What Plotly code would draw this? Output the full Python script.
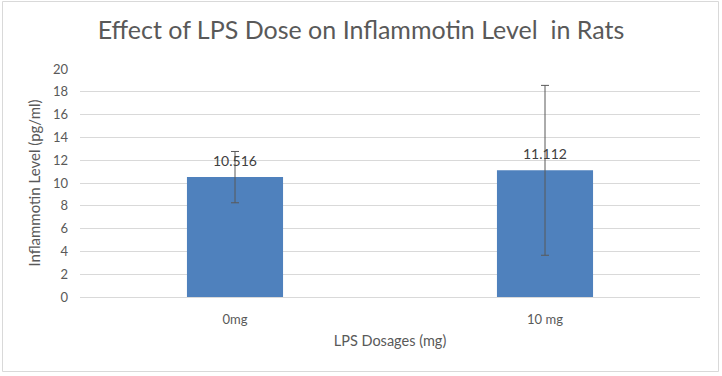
import plotly.graph_objects as go

categories = ["0mg", "10 mg"]
values = [10.516, 11.112]
errors = [2.25, 7.45]
labels = ["10.516", "11.112"]
y_ticks = [0, 2, 4, 6, 8, 10, 12, 14, 16, 18, 20]

W, H = 722, 376
L, R, T, B = 80, 22, 69, 79
pw, ph = W - L - R, H - T - B

def px_x(p):
    return (p - L) / pw

def px_y(p):
    return (H - B - p) / ph

FONT = "Lato, Open Sans, sans-serif"
GREY = "#595959"

fig = go.Figure()
fig.add_trace(go.Bar(
    x=categories, y=values,
    marker=dict(color="#4F81BD", line=dict(width=0)),
    width=0.31,
    error_y=dict(type="data", array=errors, visible=True, color=GREY, thickness=1, width=4),
    hoverinfo="skip",
))
for c, v, t in zip(categories, values, labels):
    fig.add_annotation(x=c, y=v, text=t, showarrow=False, yanchor="bottom", yshift=6,
                       font=dict(family=FONT, size=14, color="#404040"))

fig.update_layout(
    width=W, height=H,
    margin=dict(l=L, r=R, t=T, b=B),
    paper_bgcolor="white", plot_bgcolor="white",
    showlegend=False,
    title=dict(text="Effect of LPS Dose on Inflammotin Level  in Rats", x=0.5, xanchor="center",
               y=1 - 30 / H, yanchor="middle",
               font=dict(family=FONT, size=25, color=GREY)),
    xaxis=dict(
        title=dict(text="LPS Dosages (mg)", font=dict(family=FONT, size=14.5, color=GREY), standoff=10),
        tickfont=dict(family=FONT, size=13, color=GREY),
        ticklabelstandoff=10,
        showline=True, linecolor="#d9d9d9", linewidth=1,
        ticks="", showgrid=False,
    ),
    yaxis=dict(
        title=dict(text="Inflammotin Level (pg/ml)", font=dict(family=FONT, size=15, color=GREY), standoff=8),
        tickfont=dict(family=FONT, size=13, color=GREY),
        ticklabelstandoff=11,
        range=[0, 20], tickvals=y_ticks,
        showgrid=True, gridcolor="#d9d9d9", gridwidth=1,
        zeroline=False, ticks="",
    ),
    font=dict(family=FONT),
    shapes=[dict(type="rect", xref="paper", yref="paper",
                 x0=px_x(2.5), x1=px_x(718.5), y0=px_y(371.5), y1=px_y(1.5),
                 line=dict(color="#d9d9d9", width=1), layer="below")],
)

fig.write_html("out.html", config={"displayModeBar": False},
               post_script="document.body.style.margin='0';")
